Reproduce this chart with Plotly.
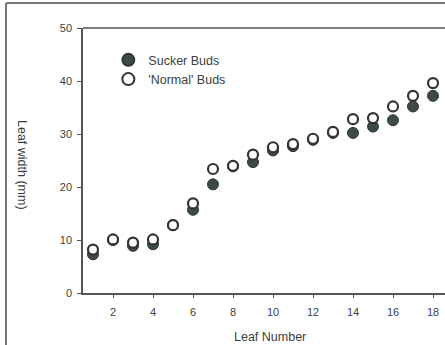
import plotly.graph_objects as go

# Leaf number along the shoot
leaf_number = list(range(1, 19))

# Mean leaf width (mm) for each bud type
sucker_buds = [7.3, 10.0, 8.9, 9.2, 12.8, 15.7, 20.5, 23.9, 24.7, 26.9,
               27.7, 28.9, 30.2, 30.2, 31.4, 32.6, 35.2, 37.2]
normal_buds = [8.2, 10.1, 9.5, 10.1, 12.8, 16.9, 23.4, 24.0, 26.1, 27.5,
               28.1, 29.1, 30.4, 32.8, 33.0, 35.2, 37.2, 39.6]

x_ticks = [2, 4, 6, 8, 10, 12, 14, 16, 18]
y_ticks = [0, 10, 20, 30, 40, 50]

ink = "#3a3f3d"
axis_col = "#555555"
font_family = "Liberation Sans, Arial, sans-serif"

fig = go.Figure()

fig.add_trace(go.Scatter(
    x=leaf_number, y=sucker_buds, mode="markers", name="Sucker Buds",
    marker=dict(symbol="circle", size=11, color="#3d4a46",
                line=dict(color="#2e3634", width=1)),
))
fig.add_trace(go.Scatter(
    x=leaf_number, y=normal_buds, mode="markers", name="'Normal' Buds",
    marker=dict(symbol="circle", size=10, color="white",
                line=dict(color="#333333", width=2.2)),
))

fig.update_layout(
    width=445, height=345,
    margin=dict(l=83, r=0, t=28, b=52),
    paper_bgcolor="white", plot_bgcolor="white",
    font=dict(family=font_family, color=ink, size=11),
    showlegend=True,
    legend=dict(
        x=0.07, y=0.935, xanchor="left", yanchor="top",
        bgcolor="rgba(0,0,0,0)", borderwidth=0,
        font=dict(size=12.5, color=ink),
        tracegroupgap=0, itemsizing="constant",
    ),
    xaxis=dict(
        range=[0.5, 18.6], tickvals=x_ticks, ticks="outside", ticklen=3,
        tickwidth=1, tickcolor=axis_col, showline=True, linecolor=axis_col,
        linewidth=1.5, showgrid=False, zeroline=False,
        tickfont=dict(size=11, color=ink), ticklabelstandoff=5,
    ),
    yaxis=dict(
        range=[0, 50], tickvals=y_ticks, ticks="outside", ticklen=4,
        tickwidth=1, tickcolor=axis_col, showline=True, linecolor=axis_col,
        linewidth=1.5, showgrid=False, zeroline=False,
        tickfont=dict(size=11, color=ink), ticklabelstandoff=3,
    ),
    shapes=[
        # top edge of the plotting box
        dict(type="line", xref="paper", yref="paper", x0=0, x1=1, y0=1, y1=1,
             line=dict(color=axis_col, width=1.5)),
        # outer figure frame (left and top)
        dict(type="line", xref="paper", yref="paper",
             x0=-77 / 362, x1=-77 / 362, y0=-52 / 265, y1=25 / 265 + 1,
             line=dict(color="#777777", width=2)),
        dict(type="line", xref="paper", yref="paper",
             x0=-77 / 362, x1=1, y0=25 / 265 + 1, y1=25 / 265 + 1,
             line=dict(color="#777777", width=2)),
    ],
    annotations=[
        dict(text="Leaf Number", xref="paper", yref="paper",
             x=(270 - 83) / 362, y=-(337 - 293) / 265,
             xanchor="center", yanchor="middle", showarrow=False,
             font=dict(size=12.5, color=ink)),
        dict(text="Leaf width (mm)", xref="paper", yref="paper",
             x=-(83 - 22) / 362, y=(293 - 165) / 265,
             xanchor="center", yanchor="middle", showarrow=False,
             textangle=90, font=dict(size=12.5, color=ink)),
    ],
)

fig.write_html("out.html")
